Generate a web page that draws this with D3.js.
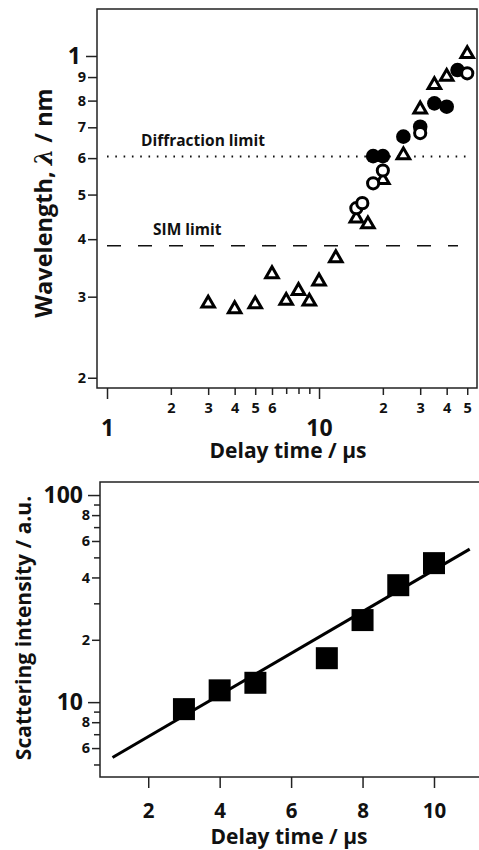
<!DOCTYPE html>
<html>
<head>
<meta charset="utf-8">
<script src="https://cdn.jsdelivr.net/npm/d3@7"></script>
<style>
  body { margin: 0; background: #fff; }
  text { font-family: "Open Sans", Lato, sans-serif; font-weight: bold; fill: #111; }
</style>
</head>
<body>
<div id="chart"></div>
<script>
// ---------- data: top panel (wavelength vs delay time) ----------
var triDelay = [3, 4, 5, 6, 7, 8, 9, 10, 12, 15, 17, 20, 25, 30, 35, 40, 50];
var triWave  = [2.90, 2.82, 2.89, 3.36, 2.94, 3.09, 2.93, 3.24, 3.64, 4.44, 4.31, 5.38, 6.09, 7.66, 8.65, 9.02, 10.1];

var filledDelay = [18, 20, 25, 30, 35, 40, 45];
var filledWave  = [6.06, 6.06, 6.68, 7.02, 7.89, 7.76, 9.32];

var openDelay = [15, 16, 18, 20, 30, 50];
var openWave  = [4.67, 4.79, 5.29, 5.64, 6.80, 9.17];

var diffractionLimit = 6.05;
var simLimit = 3.87;

// top panel tick labels
var topXSmallTicks = [2, 3, 4, 5, 6, 20, 30, 40, 50];
var topXSmallLabels = ["2", "3", "4", "5", "6", "2", "3", "4", "5"];
var topXBigTicks = [1, 10];
var topXBigLabels = ["1", "10"];
var topXMinorTicks = [7, 8, 9];
var topYSmallTicks = [2, 3, 4, 5, 6, 7, 8, 9];
var topYSmallLabels = ["2", "3", "4", "5", "6", "7", "8", "9"];
var topYBigTicks = [10];
var topYBigLabels = ["1"];

// ---------- data: bottom panel (scattering intensity) ----------
var sqDelay = [3, 4, 5, 7, 8, 9, 10];
var sqIntensity = [9.25, 11.4, 12.4, 16.3, 24.9, 36.7, 46.9];

var fitDelay = [1, 11];
var fitIntensity = [5.4, 54.8];

var botXTicks = [2, 4, 6, 8, 10];
var botYBigTicks = [10, 100];
var botYBigLabels = ["10", "100"];
var botYSmallTicks = [6, 8, 20, 40, 60, 80];
var botYSmallLabels = ["6", "8", "2", "4", "6", "8"];
var botYMinorTicks = [5, 7, 9, 30, 50, 70, 90];

var svgWidth = 479;
var svgHeight = 850;

var svg = d3.select("#chart")
  .append("svg")
  .attr("width", svgWidth)
  .attr("height", svgHeight);

// helper: axis group with no domain line, optional label placement
function drawAxis(g, axis, fontSize, textY) {
  g.call(axis);
  g.select(".domain").remove();
  g.selectAll("line").attr("stroke", "#222").attr("stroke-width", 1.5);
  g.selectAll("text")
    .attr("font-family", "'Open Sans', Lato, sans-serif")
    .attr("font-weight", "bold")
    .attr("font-size", fontSize)
    .attr("fill", "#111");
  if (textY !== undefined) g.selectAll("text").attr("y", textY).attr("dy", "0");
  return g;
}

// =================== TOP PANEL ===================
var upper = { left: 97, right: 477, top: 9, bottom: 388 };

var xTop = d3.scaleLog().domain([0.897, 55.6]).range([upper.left, upper.right]);
var yTop = d3.scaleLog().domain([1.90, 12.65]).range([upper.bottom, upper.top]);

// x axis pieces
drawAxis(svg.append("g").attr("transform", `translate(0, ${upper.bottom})`),
  d3.axisBottom(xTop).tickValues(topXSmallTicks).tickSize(7)
    .tickFormat((d, i) => topXSmallLabels[i]), 14.5, 25);
drawAxis(svg.append("g").attr("transform", `translate(0, ${upper.bottom})`),
  d3.axisBottom(xTop).tickValues(topXBigTicks).tickSize(11)
    .tickFormat((d, i) => topXBigLabels[i]), 23, 48);
drawAxis(svg.append("g").attr("transform", `translate(0, ${upper.bottom})`),
  d3.axisBottom(xTop).tickValues(topXMinorTicks).tickSize(6).tickFormat(""), 13);

// y axis pieces
drawAxis(svg.append("g").attr("transform", `translate(${upper.left}, 0)`),
  d3.axisLeft(yTop).tickValues(topYSmallTicks).tickSize(9).tickPadding(2)
    .tickFormat((d, i) => topYSmallLabels[i]), 14.5);
drawAxis(svg.append("g").attr("transform", `translate(${upper.left}, 0)`),
  d3.axisLeft(yTop).tickValues(topYBigTicks).tickSize(11).tickPadding(5)
    .tickFormat((d, i) => topYBigLabels[i]), 23);

// frame
svg.append("rect")
  .attr("x", upper.left).attr("y", upper.top)
  .attr("width", upper.right - upper.left).attr("height", upper.bottom - upper.top)
  .attr("fill", "none").attr("stroke", "#222").attr("stroke-width", 1.5);

// limit lines
svg.append("line")
  .attr("x1", xTop(1)).attr("x2", xTop(50))
  .attr("y1", yTop(diffractionLimit)).attr("y2", yTop(diffractionLimit))
  .attr("stroke", "#111").attr("stroke-width", 2).attr("stroke-dasharray", "1.6,6.7");
svg.append("text")
  .attr("x", 141).attr("y", yTop(diffractionLimit) - 10)
  .attr("font-size", 15.5)
  .text("Diffraction limit");

svg.append("line")
  .attr("x1", xTop(1)).attr("x2", 458)
  .attr("y1", yTop(simLimit)).attr("y2", yTop(simLimit))
  .attr("stroke", "#111").attr("stroke-width", 1.5).attr("stroke-dasharray", "14,17");
svg.append("text")
  .attr("x", 153).attr("y", yTop(simLimit) - 11)
  .attr("font-size", 15.5)
  .text("SIM limit");

// open triangles
var triSym = d3.symbol().type(d3.symbolTriangle).size(68);
svg.append("g").selectAll("path")
  .data(triDelay)
  .enter()
  .append("path")
  .attr("d", triSym)
  .attr("transform", (d, i) => `translate(${xTop(d)}, ${yTop(triWave[i])})`)
  .attr("fill", "#fff").attr("stroke", "#000").attr("stroke-width", 3)
  .attr("stroke-linejoin", "miter");

// filled circles
svg.append("g").selectAll("circle")
  .data(filledDelay)
  .enter()
  .append("circle")
  .attr("cx", d => xTop(d))
  .attr("cy", (d, i) => yTop(filledWave[i]))
  .attr("r", 7.3)
  .attr("fill", "#000");

// open circles
svg.append("g").selectAll("circle")
  .data(openDelay)
  .enter()
  .append("circle")
  .attr("cx", d => xTop(d))
  .attr("cy", (d, i) => yTop(openWave[i]))
  .attr("r", 5.6)
  .attr("fill", "#fff").attr("stroke", "#000").attr("stroke-width", 3);

// titles
svg.append("text")
  .attr("text-anchor", "middle")
  .attr("x", 288).attr("y", 458)
  .attr("font-size", 21)
  .text("Delay time / \u03bcs");

svg.append("text")
  .attr("text-anchor", "middle")
  .attr("transform", "translate(52, 203) rotate(-90)")
  .attr("font-size", 23.5)
  .call(t => {
    t.append("tspan").text("Wavelength, ");
    t.append("tspan").attr("font-style", "italic").attr("font-family", "'DejaVu Serif', serif").text("\u03bb");
    t.append("tspan").text(" / nm");
  });

// =================== BOTTOM PANEL ===================
var lower = { left: 100, right: 481, top: 482, bottom: 777 };

var xBot = d3.scaleLinear().domain([0.65, 11.26]).range([lower.left, 479]);
var yBot = d3.scaleLog().domain([4.35, 115.6]).range([lower.bottom, lower.top]);

drawAxis(svg.append("g").attr("transform", `translate(0, ${lower.bottom})`),
  d3.axisBottom(xBot).tickValues(botXTicks).tickSize(11).tickFormat(d3.format("d")), 20.5, 41);

drawAxis(svg.append("g").attr("transform", `translate(${lower.left}, 0)`),
  d3.axisLeft(yBot).tickValues(botYBigTicks).tickSize(12).tickPadding(5)
    .tickFormat((d, i) => botYBigLabels[i]), 23);
drawAxis(svg.append("g").attr("transform", `translate(${lower.left}, 0)`),
  d3.axisLeft(yBot).tickValues(botYSmallTicks).tickSize(8).tickPadding(2)
    .tickFormat((d, i) => botYSmallLabels[i]), 14.5);
drawAxis(svg.append("g").attr("transform", `translate(${lower.left}, 0)`),
  d3.axisLeft(yBot).tickValues(botYMinorTicks).tickSize(6).tickFormat(""), 13);

svg.append("rect")
  .attr("x", lower.left).attr("y", lower.top)
  .attr("width", lower.right - lower.left).attr("height", lower.bottom - lower.top)
  .attr("fill", "none").attr("stroke", "#222").attr("stroke-width", 1.5);

// fit line
var fitLine = d3.line()
  .x(d => xBot(d))
  .y((d, i) => yBot(fitIntensity[i]));
svg.append("path")
  .datum(fitDelay)
  .attr("d", fitLine)
  .attr("fill", "none").attr("stroke", "#000").attr("stroke-width", 3);

// filled squares
var sq = 22;
svg.append("g").selectAll("rect")
  .data(sqDelay)
  .enter()
  .append("rect")
  .attr("x", d => xBot(d) - sq / 2)
  .attr("y", (d, i) => yBot(sqIntensity[i]) - sq / 2)
  .attr("width", sq).attr("height", sq)
  .attr("fill", "#000");

svg.append("text")
  .attr("text-anchor", "middle")
  .attr("x", 289).attr("y", 844)
  .attr("font-size", 21)
  .text("Delay time / \u03bcs");

svg.append("text")
  .attr("text-anchor", "middle")
  .attr("transform", "translate(31, 628) rotate(-90)")
  .attr("font-size", 21)
  .text("Scattering intensity / a.u.");
</script>
</body>
</html>
